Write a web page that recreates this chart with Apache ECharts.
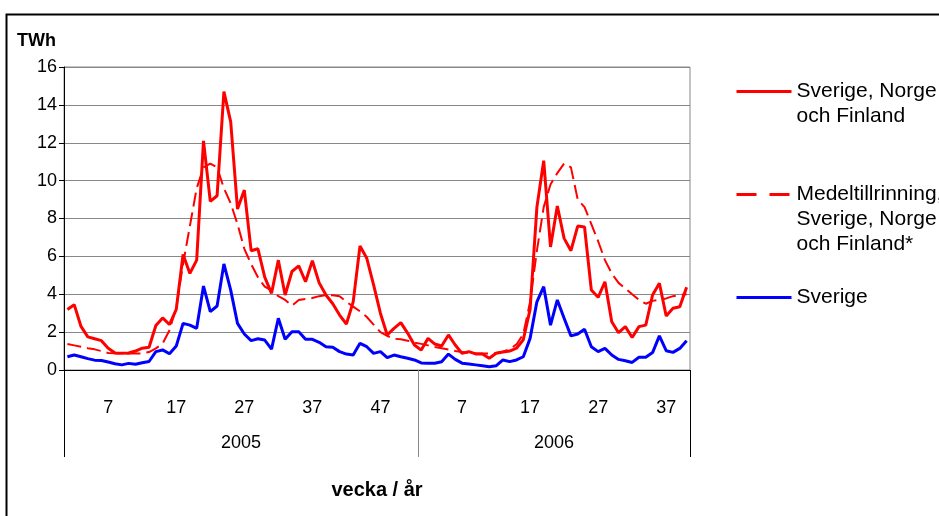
<!DOCTYPE html>
<html>
<head>
<meta charset="utf-8">
<script src="https://cdn.jsdelivr.net/npm/echarts@6/dist/echarts.min.js"></script>
<style>html,body{margin:0;padding:0;background:#fff}#c{width:939px;height:516px}</style>
</head>
<body>
<div id="c"></div>
<script>
// ---- data ----
var yearLabels = ['2005', '2006'];
var weeksPerYear = [52, 40];
var weekTickLabels = [7, 17, 27, 37, 47];

var snf2005 = [3.2, 3.45, 2.3, 1.75, 1.65, 1.55, 1.15, 0.9, 0.88, 0.9, 1.0, 1.15, 1.2, 2.35, 2.75, 2.4, 3.2,
  6.1, 5.1, 5.8, 12.1, 8.9, 9.2, 14.7, 13.1, 8.5, 9.5, 6.3, 6.4, 4.9, 4.05, 5.8, 3.96, 5.2, 5.5, 4.66, 5.77,
  4.6, 3.96, 3.5, 2.9, 2.43, 3.6, 6.55, 5.9, 4.5, 3.0, 1.85, 2.2, 2.5, 1.95, 1.32];
var snf2006 = [1.05, 1.67, 1.37, 1.27, 1.85, 1.32, 0.88, 0.97, 0.85, 0.85, 0.62, 0.88, 0.95, 1.0, 1.15, 1.6,
  3.2, 8.6, 11.05, 6.5, 8.66, 6.95, 6.3, 7.6, 7.55, 4.22, 3.84, 4.66, 2.55, 1.97, 2.29, 1.72, 2.29, 2.37,
  3.96, 4.58, 2.85, 3.26, 3.34, 4.37];

var medel2005 = [1.37, 1.3, 1.23, 1.15, 1.09, 1.0, 0.9, 0.88, 0.87, 0.87, 0.87, 0.88, 0.95, 1.14, 1.4, 2.1,
  3.3, 5.6, 7.6, 9.6, 10.7, 10.9, 10.7, 9.6, 8.8, 7.7, 6.4, 5.6, 4.9, 4.4, 4.2, 3.9, 3.7, 3.4, 3.7, 3.75,
  3.8, 3.9, 3.95, 3.95, 3.9, 3.6, 3.35, 3.1, 2.8, 2.4, 2.0, 1.8, 1.65, 1.62, 1.55, 1.45];
var medel2006 = [1.38, 1.3, 1.22, 1.15, 1.08, 1.0, 0.95, 0.9, 0.88, 0.87, 0.87, 0.9, 0.97, 1.1, 1.35, 1.9,
  3.6, 6.3, 8.6, 9.8, 10.4, 10.9, 10.7, 9.0, 8.6, 7.7, 6.8, 5.8, 5.1, 4.6, 4.3, 4.0, 3.7, 3.5, 3.65, 3.7,
  3.78, 3.9, 3.96, 4.0];

var sve2005 = [0.7, 0.79, 0.7, 0.6, 0.52, 0.5, 0.42, 0.33, 0.27, 0.35, 0.3, 0.38, 0.45, 0.97, 1.06, 0.86,
  1.27, 2.46, 2.37, 2.2, 4.43, 3.08, 3.38, 5.6, 4.22, 2.46, 1.9, 1.55, 1.65, 1.58, 1.1, 2.73, 1.62, 2.02,
  2.02, 1.62, 1.62, 1.46, 1.23, 1.2, 0.97, 0.84, 0.79, 1.41, 1.23, 0.88, 0.97, 0.65, 0.79, 0.7, 0.62, 0.53];
var sve2006 = [0.37, 0.35, 0.36, 0.44, 0.84, 0.56, 0.36, 0.32, 0.27, 0.22, 0.17, 0.22, 0.53, 0.44, 0.53,
  0.7, 1.67, 3.6, 4.4, 2.37, 3.7, 2.73, 1.8, 1.9, 2.15, 1.23, 0.97, 1.14, 0.79, 0.56, 0.49, 0.4, 0.67, 0.67,
  0.92, 1.8, 1.02, 0.93, 1.14, 1.55];

var seriesNames = ['Sverige, Norge och Finland', 'Medeltillrinning, Sverige, Norge och Finland*', 'Sverige'];
var legendLines = {
  'Sverige, Norge och Finland': ['', 'Sverige, Norge', 'och Finland'],
  'Medeltillrinning, Sverige, Norge och Finland*': ['', '', 'Medeltillrinning,', 'Sverige, Norge', 'och Finland*'],
  'Sverige': ['', 'Sverige', '']
};

// ---- build ----
var categories = [];
weeksPerYear.forEach(function (n, yi) {
  for (var w = 1; w <= n; w++) categories.push(yearLabels[yi] + '-' + w);
});
var totalWeeks = categories.length;
var yearStarts = [0];
weeksPerYear.forEach(function (n, i) { yearStarts.push(yearStarts[i] + n); });
var yearCenters = weeksPerYear.map(function (n, i) { return yearStarts[i] + n / 2; });

var snf = snf2005.concat(snf2006);
var medel = medel2005.concat(medel2006);
var sve = sve2005.concat(sve2006);

var FONT = 'Liberation Sans, Arial, sans-serif';
var chart = echarts.init(document.getElementById('c'), null, { renderer: 'canvas' });

chart.setOption({
  animation: false,
  backgroundColor: '#fff',
  title: {
    text: 'TWh', left: 12, top: 27,
    textStyle: { fontFamily: FONT, fontWeight: 'bold', fontSize: 18, color: '#000' }
  },
  graphic: [{
    type: 'rect', left: 4, top: 12, shape: { width: 1000, height: 600 },
    style: { fill: 'none', stroke: '#000', lineWidth: 2 }, silent: true
  }],
  legend: {
    orient: 'vertical', left: 730, top: 49, itemGap: 3,
    itemWidth: 55, itemHeight: 12, selectedMode: false,
    itemStyle: { opacity: 0 },
    textStyle: { fontFamily: FONT, fontSize: 21, lineHeight: 25, color: '#000' },
    formatter: function (name) { return legendLines[name].join('\n'); },
    data: [
      { name: seriesNames[0], lineStyle: { width: 3 } },
      { name: seriesNames[1], lineStyle: { width: 3, type: [20, 13] } },
      { name: seriesNames[2], lineStyle: { width: 3 } }
    ]
  },
  grid: {
    left: 64, right: 249, top: 67, bottom: 146,
    show: true, borderColor: '#888', borderWidth: 1, backgroundColor: 'transparent'
  },
  xAxis: [{
    type: 'category', data: categories, position: 'bottom', boundaryGap: true,
    axisLine: { lineStyle: { color: '#000', width: 1 } },
    axisTick: { show: false },
    axisLabel: {
      fontFamily: FONT, fontSize: 18, color: '#000', margin: 29,
      interval: function (idx, val) {
        var w = +val.split('-')[1];
        return weekTickLabels.indexOf(w) >= 0;
      },
      formatter: function (val) { return val.split('-')[1]; }
    },
    name: 'vecka / år', nameLocation: 'middle', nameGap: 110,
    nameTextStyle: { fontFamily: FONT, fontSize: 20, fontWeight: 'bold', color: '#000' }
  }, {
    type: 'value', min: 0, max: totalWeeks, position: 'bottom',
    axisLine: { show: false }, splitLine: { show: false },
    axisTick: { show: true, customValues: [yearStarts[0], yearStarts[yearStarts.length - 1]], length: 87, lineStyle: { color: '#000', width: 1 } },
    axisLabel: {
      show: true, customValues: yearCenters, margin: 64,
      fontFamily: FONT, fontSize: 18, color: '#000',
      formatter: function (v) {
        for (var i = 0; i < yearCenters.length; i++) if (Math.abs(yearCenters[i] - v) < 0.01) return yearLabels[i];
        return '';
      }
    }
  }, {
    type: 'value', min: 0, max: totalWeeks, position: 'bottom',
    axisLine: { show: false }, splitLine: { show: false },
    axisTick: { show: true, customValues: yearStarts.slice(1, -1), length: 87, lineStyle: { color: '#888', width: 1 } },
    axisLabel: { show: false }
  }],
  yAxis: {
    type: 'value', min: 0, max: 16, interval: 2,
    axisLine: { show: true, lineStyle: { color: '#000', width: 1 } },
    axisTick: { show: true, length: 5, lineStyle: { color: '#000' } },
    axisLabel: { fontFamily: FONT, fontSize: 18, color: '#000', margin: 7 },
    splitLine: { show: true, lineStyle: { color: '#888', width: 1 } }
  },
  series: [{
    name: seriesNames[1], type: 'line', data: medel, symbol: 'none', z: 2,
    lineStyle: { color: '#ff0000', width: 2, type: [14, 6] }, itemStyle: { color: '#ff0000' }
  }, {
    name: seriesNames[0], type: 'line', data: snf, symbol: 'none', z: 3,
    lineStyle: { color: '#ff0000', width: 3 }, itemStyle: { color: '#ff0000' }
  }, {
    name: seriesNames[2], type: 'line', data: sve, symbol: 'none', z: 4,
    lineStyle: { color: '#0000ff', width: 3 }, itemStyle: { color: '#0000ff' }
  }]
});
</script>
</body>
</html>
